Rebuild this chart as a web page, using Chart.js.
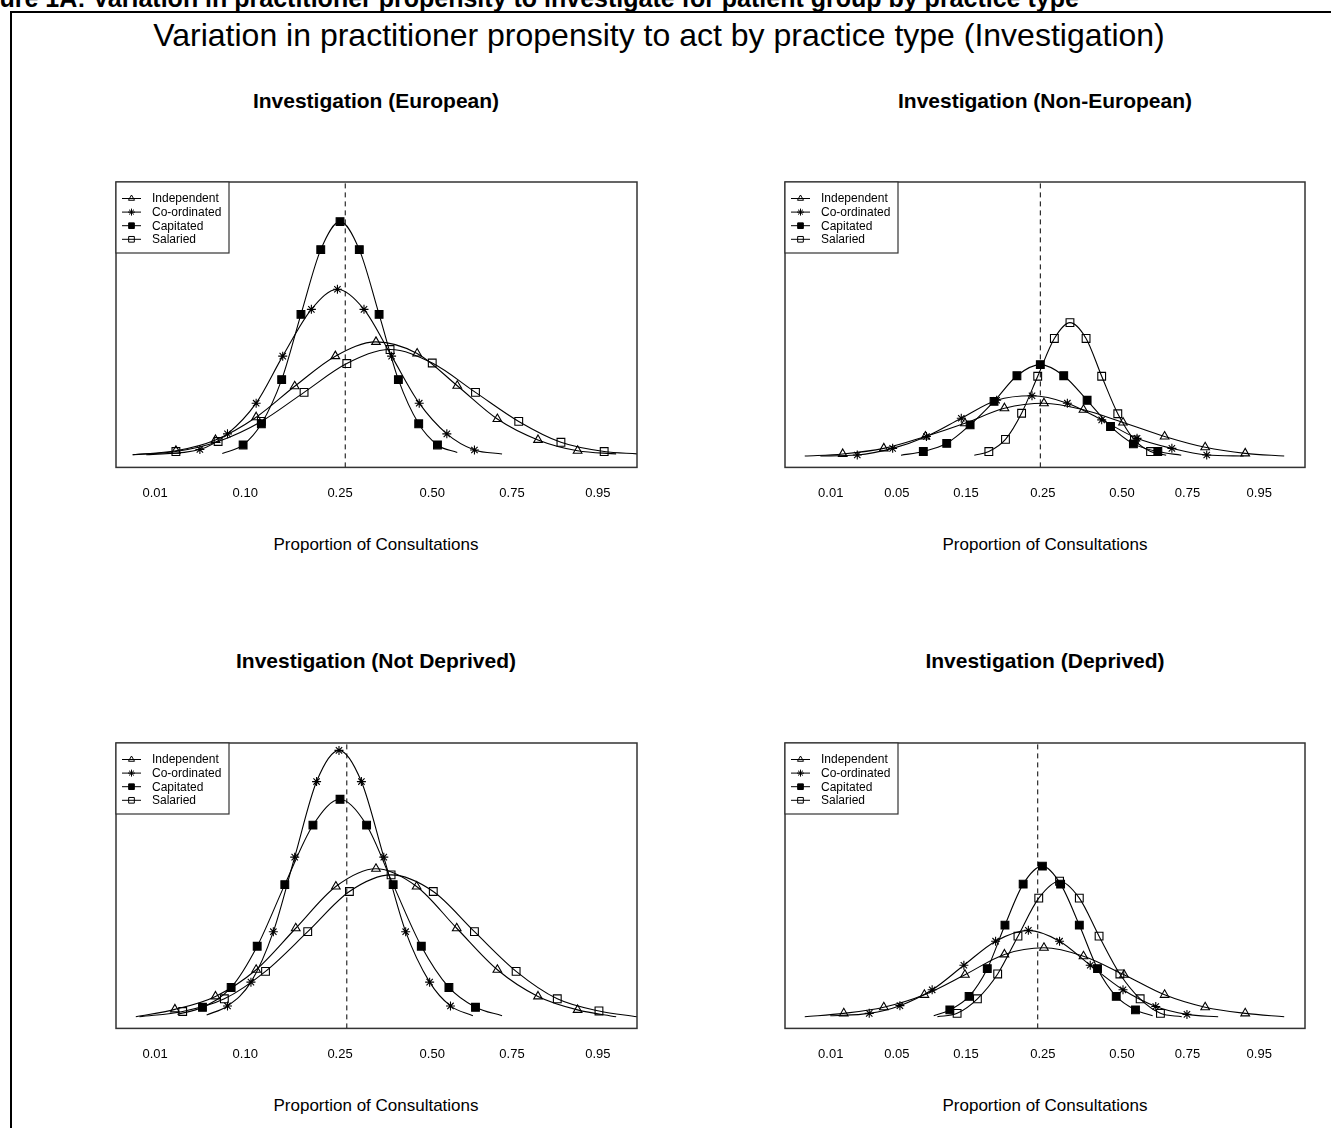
<!DOCTYPE html>
<html>
<head>
<meta charset="utf-8">
<script src="https://cdn.jsdelivr.net/npm/chart.js@4.4.1/dist/chart.umd.min.js"></script>
<style>
  body { margin: 0; background: #fff; width: 1331px; height: 1128px; overflow: hidden; position: relative;
         font-family: "Liberation Sans", Arial, sans-serif; color: #000; }
  .txt { position: absolute; white-space: nowrap; line-height: 1; }
  .center { transform: translateX(-50%); }
  .frame { position: absolute; left: 10px; top: 11px; width: 1400px; height: 1200px;
           border-left: 2px solid #000; border-top: 2px solid #000; }
  canvas { position: absolute; }
</style>
</head>
<body>
<div class="txt" style="left:-38px; top:-14px; font-size:25px; font-weight:bold;">Figure 1A: Variation in practitioner propensity to investigate for patient group by practice type</div>
<div class="frame"></div>
<div class="txt center" style="left:659px; top:19px; font-size:32px;">Variation in practitioner propensity to act by practice type (Investigation)</div>

<div class="txt center" style="left:376px; top:90px; font-size:21px; font-weight:bold;">Investigation (European)</div>
<div class="txt center" style="left:1045px; top:90px; font-size:21px; font-weight:bold;">Investigation (Non-European)</div>
<div class="txt center" style="left:376px; top:650px; font-size:21px; font-weight:bold;">Investigation (Not Deprived)</div>
<div class="txt center" style="left:1045px; top:650px; font-size:21px; font-weight:bold;">Investigation (Deprived)</div>

<div class="txt center" style="left:376px; top:536px; font-size:17px;">Proportion of Consultations</div>
<div class="txt center" style="left:1045px; top:536px; font-size:17px;">Proportion of Consultations</div>
<div class="txt center" style="left:376px; top:1097px; font-size:17px;">Proportion of Consultations</div>
<div class="txt center" style="left:1045px; top:1097px; font-size:17px;">Proportion of Consultations</div>

<canvas id="euroChart" width="571" height="347" style="left:86px; top:172px;"></canvas>
<canvas id="nonEuroChart" width="570" height="347" style="left:755px; top:172px;"></canvas>
<canvas id="notDepChart" width="571" height="347" style="left:86px; top:733px;"></canvas>
<canvas id="depChart" width="570" height="347" style="left:755px; top:733px;"></canvas>

<script>
// Data: [position on the proportion scale, density]

const seriesNames = ["Independent", "Co-ordinated", "Capitated", "Salaried"];

const leftTicks = [7.5, 24.8, 43.0, 60.7, 76.0, 92.5];
const leftTickLabels = ["0.01", "0.10", "0.25", "0.50", "0.75", "0.95"];
const rightTicks = [8.8, 21.5, 34.8, 49.6, 64.8, 77.4, 91.2];
const rightTickLabels = ["0.01", "0.05", "0.15", "0.25", "0.50", "0.75", "0.95"];

// dashed reference line per panel
const euroRef = 44.0;
const nonEuroRef = 49.1;
const notDepRef = 44.3;
const depRef = 48.6;

const euroIndependent = [[3.2,0.08],[11.5,0.23],[19.1,0.64],[26.9,1.50],[34.3,2.67],[42.1,3.81],[49.9,4.35],[57.8,3.91],[65.5,2.69],[73.2,1.43],[81.0,0.64],[88.6,0.23],[96.0,0.11]];
const euroCoordinated = [[5.8,0.08],[16.1,0.28],[21.4,0.87],[26.9,2.03],[32.0,3.81],[37.5,5.58],[42.5,6.34],[47.6,5.58],[52.9,3.81],[58.2,2.03],[63.5,0.87],[68.8,0.26],[74.1,0.11]];
const euroCapitated = [[20.4,0.13],[24.4,0.45],[27.9,1.25],[31.8,2.92],[35.5,5.39],[39.3,7.84],[43.0,8.90],[46.7,7.84],[50.5,5.39],[54.2,2.92],[58.1,1.25],[61.7,0.45],[65.5,0.16]];
const euroSalaried = [[3.2,0.08],[11.5,0.20],[19.6,0.58],[27.9,1.34],[36.1,2.44],[44.3,3.53],[52.6,4.06],[60.7,3.55],[69.0,2.44],[77.3,1.34],[85.4,0.55],[93.7,0.20],[100,0.11]];

const nonEuroIndependent = [[3.8,0.03],[11.1,0.11],[19.0,0.32],[27.0,0.77],[34.6,1.27],[42.2,1.84],[49.8,2.03],[57.4,1.78],[65.0,1.30],[73.0,0.77],[80.8,0.36],[88.5,0.13],[96.0,0.03]];
const nonEuroCoordinated = [[6.8,0.03],[13.9,0.07],[20.7,0.32],[27.2,0.77],[33.9,1.46],[40.7,2.14],[47.5,2.31],[54.3,2.03],[60.9,1.40],[67.7,0.70],[74.4,0.32],[81.1,0.07],[88.2,0.03]];
const nonEuroCapitated = [[22.3,0.06],[26.6,0.20],[31.1,0.51],[35.6,1.21],[40.2,2.10],[44.6,3.07],[49.1,3.49],[53.6,3.07],[58.1,2.14],[62.6,1.15],[67.0,0.49],[71.7,0.20],[76.2,0.06]];
const nonEuroSalaried = [[36.4,0.06],[39.2,0.20],[42.4,0.66],[45.5,1.65],[48.6,3.05],[51.8,4.48],[54.8,5.08],[57.9,4.48],[60.9,3.05],[64.0,1.63],[67.2,0.64],[70.3,0.20],[73.3,0.06]];

const notDepIndependent = [[3.8,0.04],[11.3,0.32],[19.1,0.81],[26.9,1.82],[34.5,3.39],[42.2,4.97],[49.9,5.64],[57.7,4.97],[65.4,3.39],[73.2,1.82],[81.0,0.81],[88.6,0.30],[96.0,0.04]];
const notDepCoordinated = [[17.4,0.11],[21.4,0.45],[25.9,1.35],[30.2,3.26],[34.3,6.08],[38.5,8.94],[42.8,10.12],[47.1,8.94],[51.4,6.08],[55.6,3.26],[60.2,1.35],[64.2,0.45],[68.5,0.08]];
const notDepCapitated = [[11.8,0.13],[16.6,0.40],[22.1,1.15],[27.1,2.71],[32.4,5.04],[37.8,7.29],[43.0,8.27],[48.1,7.29],[53.2,5.04],[58.6,2.71],[63.9,1.15],[69.0,0.40],[74.1,0.08]];
const notDepSalaried = [[4.5,0.04],[12.8,0.24],[20.8,0.72],[28.7,1.76],[36.8,3.26],[44.8,4.78],[52.8,5.41],[60.9,4.78],[68.8,3.26],[76.8,1.76],[84.7,0.72],[92.7,0.26],[100,0.04]];

const depIndependent = [[3.8,0.04],[11.3,0.17],[19.0,0.40],[26.8,0.87],[34.6,1.63],[42.2,2.40],[49.8,2.65],[57.4,2.33],[65.2,1.63],[73.0,0.87],[80.8,0.40],[88.5,0.17],[96.0,0.04]];
const depCoordinated = [[8.7,0.08],[16.2,0.17],[22.1,0.46],[28.3,1.06],[34.4,1.99],[40.5,2.90],[46.8,3.31],[52.8,2.90],[58.7,1.99],[65.0,1.06],[71.3,0.43],[77.3,0.13],[83.3,0.04]];
const depCapitated = [[28.6,0.08],[31.7,0.30],[35.4,0.81],[38.9,1.86],[42.3,3.51],[45.8,5.06],[49.5,5.74],[53.0,5.06],[56.6,3.51],[60.1,1.86],[63.7,0.81],[67.4,0.30],[70.7,0.08]];
const depSalaried = [[29.3,0.04],[33.1,0.17],[37.0,0.72],[40.9,1.66],[44.8,3.09],[48.8,4.53],[52.8,5.17],[56.6,4.53],[60.4,3.09],[64.4,1.66],[68.3,0.72],[72.2,0.17],[76.3,0.04]];

// Setup

const yMin = -0.4;
const yMax = 10.4;
const fontFamily = '"Liberation Sans", Arial, sans-serif';

const markerStyles = [
  { pointStyle: "triangle", radius: 5, fill: "rgba(0,0,0,0)", legendRadius: 3.5 },
  { pointStyle: "star", radius: 4.5, fill: "rgba(0,0,0,0)", legendRadius: 3.5 },
  { pointStyle: "rect", radius: 5.5, fill: "#000", legendRadius: 4 },
  { pointStyle: "rect", radius: 5.5, fill: "rgba(0,0,0,0)", legendRadius: 4 },
];

function curveDatasets(seriesList, refLine) {
  let sets = seriesList.map(function (pts, i) {
    let st = markerStyles[i];
    return {
      label: seriesNames[i],
      data: pts.map(p => ({ x: p[0], y: p[1] })),
      borderColor: "#000",
      borderWidth: 1.1,
      pointStyle: st.pointStyle,
      pointBackgroundColor: st.fill,
      pointBorderColor: "#000",
      pointBorderWidth: 1.1,
      // curve ends are drawn without a marker
      pointRadius: ctx => (ctx.dataIndex === 0 || ctx.dataIndex === pts.length - 1) ? 0 : st.radius,
      legendRadius: st.legendRadius,
      cubicInterpolationMode: "monotone",
      tension: 0.4,
      fill: false,
    };
  });
  sets.push({
    label: "ref",
    data: [{ x: refLine, y: yMin }, { x: refLine, y: yMax }],
    borderColor: "#000",
    borderWidth: 1,
    borderDash: [5, 4],
    pointRadius: 0,
    tension: 0,
  });
  return sets;
}

// Plugins

const plotBox = {
  id: "plotBox",
  afterDraw(chart) {
    const ctx = chart.ctx, a = chart.chartArea;
    ctx.save();
    ctx.strokeStyle = "#333";
    ctx.lineWidth = 1.5;
    ctx.strokeRect(a.left, a.top, a.right - a.left, a.bottom - a.top);

    // legend in the top-left corner
    const x0 = a.left, y0 = a.top, w = 113, h = 71;
    ctx.fillStyle = "#fff";
    ctx.fillRect(x0, y0, w, h);
    ctx.lineWidth = 1.2;
    ctx.strokeRect(x0, y0, w, h);
    ctx.font = "12px " + fontFamily;
    ctx.textBaseline = "middle";
    seriesNames.forEach(function (name, i) {
      const ds = chart.data.datasets[i];
      const y = y0 + 16.5 + i * 13.6;
      ctx.strokeStyle = "#000";
      ctx.lineWidth = 1;
      ctx.beginPath();
      ctx.moveTo(x0 + 6, y);
      ctx.lineTo(x0 + 25, y);
      ctx.stroke();
      ctx.fillStyle = ds.pointBackgroundColor;
      Chart.helpers.drawPoint(ctx, { pointStyle: ds.pointStyle, radius: ds.legendRadius, borderWidth: 1, rotation: 0 }, x0 + 15.5, y);
      ctx.fillStyle = "#000";
      ctx.fillText(name, x0 + 36, y + 0.5);
    });
    ctx.restore();
  },
};

// Configuration

function panelConfig(seriesList, refLine, ticks, tickLabels, padRight) {
  return {
    type: "line",
    data: { datasets: curveDatasets(seriesList, refLine) },
    options: {
      responsive: false,
      animation: false,
      events: [],
      layout: { padding: { left: 30, right: padRight, top: 10, bottom: 0 } },
      plugins: {
        legend: { display: false },
        tooltip: { enabled: false },
      },
      scales: {
        x: {
          type: "linear",
          min: 0,
          max: 100,
          grid: { display: false, drawTicks: false },
          border: { display: false },
          afterBuildTicks: function (scale) {
            scale.ticks = ticks.map(v => ({ value: v }));
          },
          ticks: {
            autoSkip: false,
            maxRotation: 0,
            padding: 18,
            color: "#000",
            font: { family: fontFamily, size: 13 },
            callback: (v, i) => tickLabels[i],
          },
        },
        y: { display: false, min: yMin, max: yMax },
      },
    },
    plugins: [plotBox],
  };
}

euro = new Chart(document.getElementById("euroChart"),
  panelConfig([euroIndependent, euroCoordinated, euroCapitated, euroSalaried], euroRef, leftTicks, leftTickLabels, 20));
nonEuro = new Chart(document.getElementById("nonEuroChart"),
  panelConfig([nonEuroIndependent, nonEuroCoordinated, nonEuroCapitated, nonEuroSalaried], nonEuroRef, rightTicks, rightTickLabels, 20));
notDep = new Chart(document.getElementById("notDepChart"),
  panelConfig([notDepIndependent, notDepCoordinated, notDepCapitated, notDepSalaried], notDepRef, leftTicks, leftTickLabels, 20));
dep = new Chart(document.getElementById("depChart"),
  panelConfig([depIndependent, depCoordinated, depCapitated, depSalaried], depRef, rightTicks, rightTickLabels, 20));
</script>
</body>
</html>
